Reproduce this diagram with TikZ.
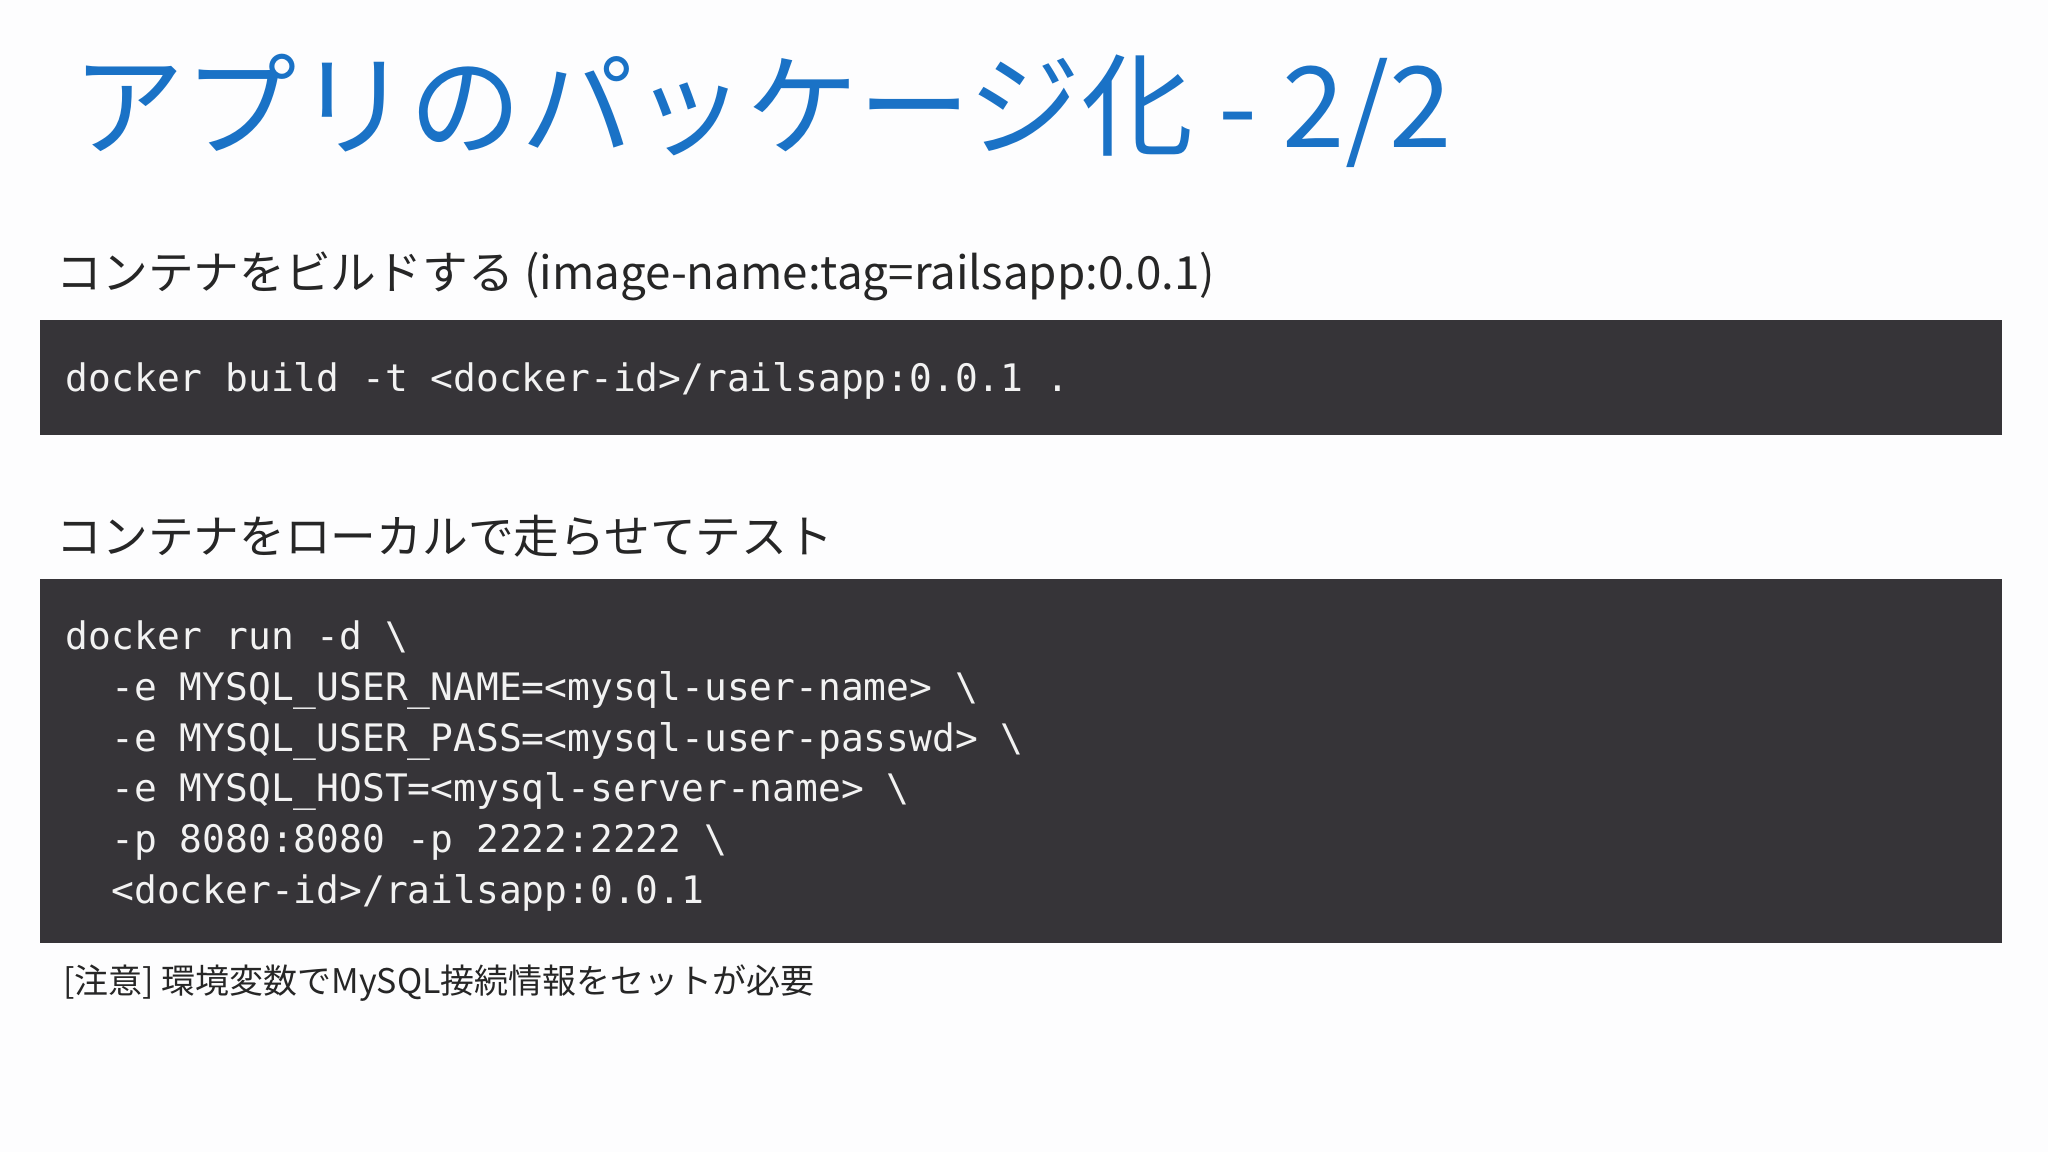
\documentclass[tikz,border=0pt]{standalone}
\usepackage{fontspec}
\setmainfont{Noto Sans CJK JP}
\newfontfamily\codefont{DejaVu Sans Mono}
\definecolor{titleblue}{HTML}{1A72C6}
\definecolor{boxgray}{HTML}{363438}
\definecolor{codewhite}{HTML}{F2F2F2}
\definecolor{bg}{HTML}{FDFDFE}
\begin{document}
\begin{tikzpicture}[x=0.5pt,y=-0.5pt,
  title/.style={anchor=base west,inner sep=0pt,text=titleblue,font=\fontsize{43}{50}\selectfont},
  sub/.style={anchor=base west,inner sep=0pt,text=black!85,font=\fontsize{17.5}{21}\selectfont},
  codebox/.style={fill=boxgray,draw=none},
  code/.style={anchor=base west,inner sep=0pt,text=codewhite,font=\codefont\fontsize{14.5}{19.5}\selectfont},
  note/.style={anchor=base west,inner sep=0pt,text=black!85,font=\fontsize{13}{16}\selectfont}]
\fill[bg] (0,0) rectangle (1568,882);
\useasboundingbox (0,0) rectangle (1568,882);
\node[title] (t) at (55,113) {アプリのパッケージ化 - 2/2};
\node[sub] (s1) at (43,222) {コンテナをビルドする (image-name:tag=railsapp:0.0.1)};
\fill[codebox] (31,245) rectangle (1533,333);
\node[code] (c1) at (50,300) {docker build -t <docker-id>/railsapp:0.0.1 .};
\node[sub] (s2) at (43,424) {コンテナをローカルで走らせてテスト};
\fill[codebox] (31,443) rectangle (1533,722);
\node[code] (r1) at (50,497) {docker run -d \textbackslash};
\node[code] (r2) at (50,536) {\ \ -e MYSQL\_USER\_NAME=<mysql-user-name> \textbackslash};
\node[code] (r3) at (50,575) {\ \ -e MYSQL\_USER\_PASS=<mysql-user-passwd> \textbackslash};
\node[code] (r4) at (50,614) {\ \ -e MYSQL\_HOST=<mysql-server-name> \textbackslash};
\node[code] (r5) at (50,653) {\ \ -p 8080:8080 -p 2222:2222 \textbackslash};
\node[code] (r6) at (50,692) {\ \ <docker-id>/railsapp:0.0.1};
\node[note] (n) at (48,761) {[注意] 環境変数でMySQL接続情報をセットが必要};
\end{tikzpicture}
\end{document}
